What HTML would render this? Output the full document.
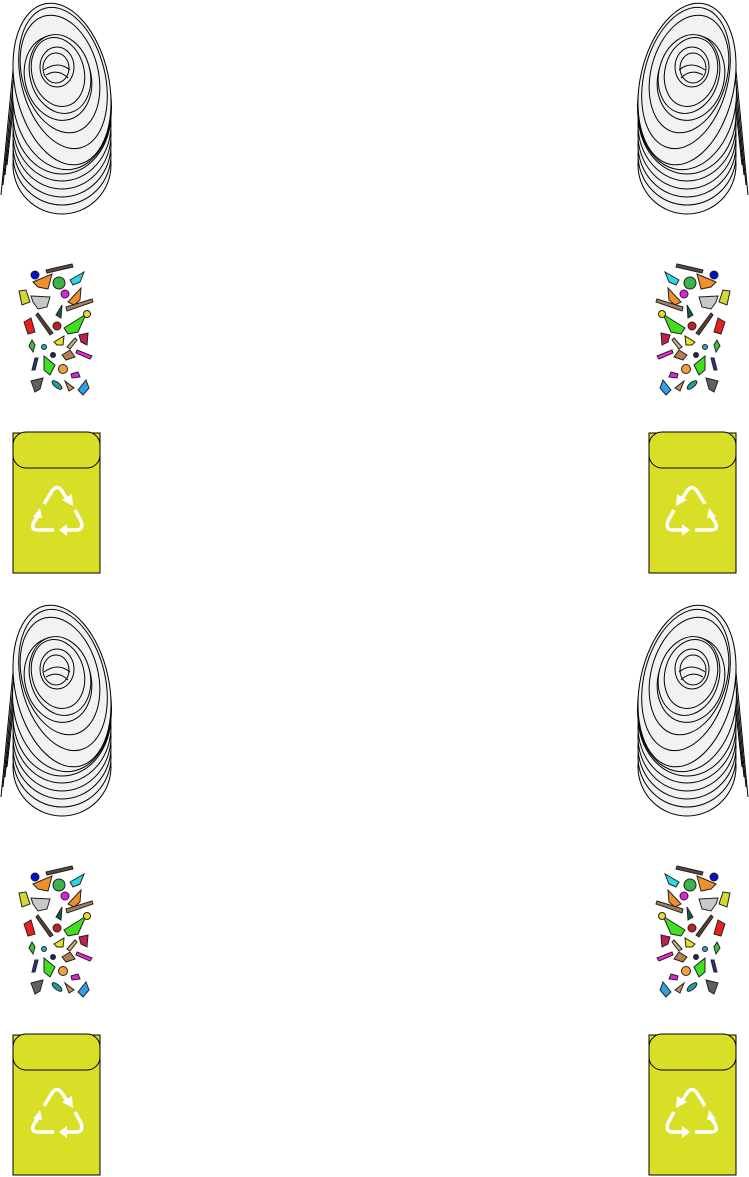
<!DOCTYPE html>
<html><head><meta charset="utf-8"><style>html,body{margin:0;padding:0;background:#fff}svg{display:block}</style></head>
<body>
<svg width="749" height="1177" viewBox="0 0 749 1177" xmlns="http://www.w3.org/2000/svg">
<defs>
<g id="col">
  <g stroke="#000" stroke-width="1" fill="#f2f2f2">
    <path d="M1,195 L14,60" fill="none"/><path d="M3,185 L16,55" fill="none"/><path d="M5,175 L18,50" fill="none"/><path d="M7,165 L20,45" fill="none"/>
    <ellipse cx="62" cy="165" rx="49" ry="49"/>
    <ellipse cx="62" cy="155" rx="49" ry="50"/>
    <ellipse cx="62" cy="145" rx="49" ry="52"/>
    <ellipse cx="62" cy="135" rx="49" ry="54"/>
    <ellipse cx="62" cy="125" rx="49" ry="56"/>
    <ellipse cx="62" cy="114" rx="49" ry="60"/>
    <ellipse cx="62" cy="100" rx="49" ry="70" transform="rotate(-8 62 100)"/>
    <ellipse cx="62" cy="84" rx="47" ry="82" transform="rotate(-12 62 84)"/>
    <ellipse cx="63" cy="78" rx="42" ry="72" transform="rotate(-14 63 78)"/>
    <ellipse cx="60" cy="74" rx="38" ry="60" transform="rotate(-15 60 74)"/>
    <ellipse cx="58" cy="78" rx="33" ry="43" transform="rotate(-15 58 78)"/>
    <ellipse cx="60" cy="74" rx="30" ry="40" transform="rotate(-15 60 74)"/>
    <ellipse cx="58" cy="72" rx="26" ry="35" transform="rotate(-15 58 72)"/>
    <ellipse cx="57" cy="67" rx="17" ry="20"/>
    <ellipse cx="56" cy="68" rx="13" ry="15"/>
    <path d="M44,70 Q58,60 70,70 M46,75 Q58,68 68,78" fill="none"/>
  </g>
  <g stroke="#222" stroke-width="1">
    <circle cx="35" cy="275" r="4" fill="#0010d0"/>
    <polygon points="46,270 72,264 73,267 47,273" fill="#5a4a40"/>
    <polygon points="33,282 52,274 48,289 38,287" fill="#f0902a"/>
    <circle cx="59" cy="283" r="6" fill="#3cb34a"/>
    <polygon points="70,280 84,272 80,282 73,285" fill="#2ad8e0"/>
    <polygon points="19,291 26,290 30,302 22,305" fill="#d4d830"/>
    <polygon points="31,296 50,297 47,307 38,309 33,302" fill="#c8c8c8"/>
    <circle cx="65" cy="294" r="4" fill="#e020e0"/>
    <polygon points="68,302 81,288 80,300 74,305" fill="#f0902a"/>
    <polygon points="66,307 92,299 93,302 67,311" fill="#a08060"/>
    <polygon points="56,315 62,305 61,318" fill="#106040"/>
    <polygon points="36,315 38,313 53,333 50,335" fill="#5a4030"/>
    <polygon points="24,322 31,318 35,332 28,334" fill="#e82020"/>
    <circle cx="57" cy="326" r="4" fill="#c02020"/>
    <polygon points="64,328 80,318 86,314 78,332 68,334" fill="#40e020"/>
    <circle cx="87" cy="314" r="3.5" fill="#e0e030"/>
    <polygon points="54,342 64,336 63,345 57,345" fill="#e8e020"/>
    <polygon points="67,347 75,338 77,340 70,349" fill="#d0b080"/>
    <polygon points="79,335 88,333 87,345 81,342" fill="#c02050"/>
    <polygon points="32,340 35,345 33,352 29,346" fill="#40c040"/>
    <circle cx="44" cy="347" r="2.5" fill="#30a0e0"/>
    <circle cx="53" cy="355" r="2.5" fill="#202060"/>
    <polygon points="62,355 70,350 75,357 66,360" fill="#b08050"/>
    <polygon points="77,350 92,356 90,359 76,353" fill="#ff20e0"/>
    <polygon points="35,358 38,358 35,370 32,370" fill="#303090"/>
    <polygon points="44,356 55,365 50,375 44,370" fill="#40e020"/>
    <circle cx="63" cy="369" r="4.5" fill="#f0a040"/>
    <polygon points="71,374 78,372 80,377 72,378" fill="#e020e0"/>
    <polygon points="31,381 43,378 40,389 35,392" fill="#606060"/>
    <ellipse cx="57" cy="385" rx="6" ry="2.5" transform="rotate(40 57 385)" fill="#20a0a0"/>
    <polygon points="65,381 74,388 69,391" fill="#c09060"/>
    <polygon points="78,390 86,380 89,388 83,395" fill="#30a0e0"/>
  </g>
  <g>
    <rect x="13" y="433" width="87" height="140" fill="#d9df27" stroke="#000" stroke-width="1"/>
    <rect x="13" y="432" width="87" height="36" rx="13" fill="#d9df27" stroke="#000" stroke-width="1"/>
    <g fill="none" stroke="#fff" stroke-width="3.5" stroke-linecap="butt">
      <path d="M44,504 L52,491 Q57,484 62,491 L67,499"/>
      <path d="M75,510 L81,521 Q84,530 76,530 L66,530"/>
      <path d="M54,530 L38,530 Q30,530 34,522 L38,516"/>
    </g>
    <g fill="#fff">
      <polygon points="62,500 73,506 72,494"/>
      <polygon points="67,524 59,530 67,536"/>
      <polygon points="33,517 42,518 40,508"/>
    </g>
  </g>
</g>
</defs>
<g><use href="#col"/></g>
<g transform="translate(749,0) scale(-1,1)"><use href="#col"/></g>
<g transform="translate(0,602)"><use href="#col"/></g>
<g transform="translate(749,602) scale(-1,1)"><use href="#col"/></g>
</svg>
</body></html>
